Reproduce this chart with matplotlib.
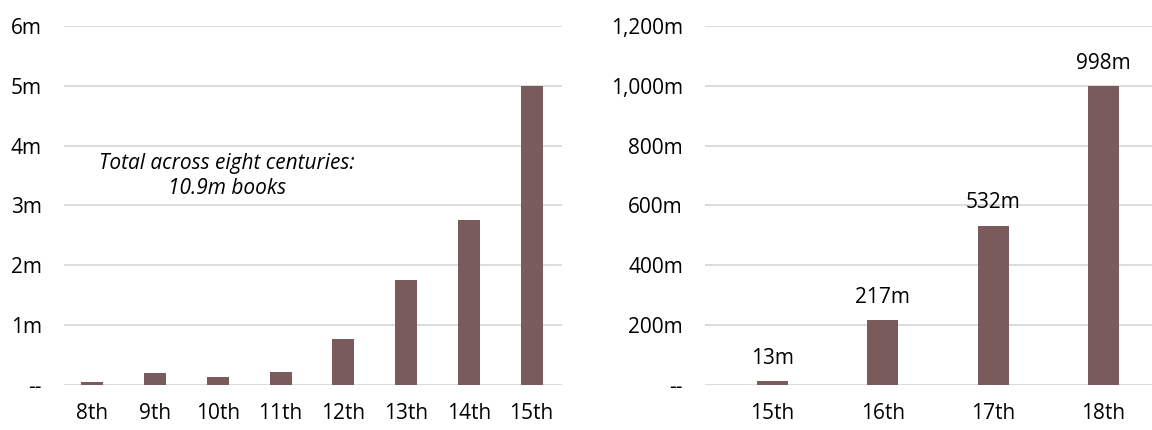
import matplotlib
matplotlib.use('Agg')
import matplotlib.pyplot as plt
from matplotlib.ticker import FuncFormatter

# du lieu doc tu hinh
left_centuries = ['8th', '9th', '10th', '11th', '12th', '13th', '14th', '15th']
left_books_m = [0.044, 0.20, 0.136, 0.212, 0.77, 1.76, 2.75, 5.0]

right_centuries = ['15th', '16th', '17th', '18th']
right_books_m = [12.6, 217, 532, 998]
right_labels = ['13m', '217m', '532m', '998m']

bar_color = '#795b5b'
grid_color = '#d9d9d9'
fs = 15

plt.rcParams['font.family'] = ['Open Sans', 'DejaVu Sans']

fig = plt.figure(figsize=(11.52, 4.30), dpi=100)
ax1 = fig.add_axes([0.0556, 0.1047, 0.432, 0.8348])
ax2 = fig.add_axes([0.612, 0.1047, 0.388, 0.8348])


def style(ax):
    for s in ax.spines.values():
        s.set_visible(False)
    ax.yaxis.grid(True, color=grid_color, linewidth=1.3)
    ax.set_axisbelow(True)
    ax.tick_params(axis='both', length=0, labelsize=fs, colors='black')
    ax.tick_params(axis='y', pad=16)
    ax.tick_params(axis='x', pad=13)


# bieu do trai
x1 = range(len(left_centuries))
ax1.bar(x1, left_books_m, width=0.35, color=bar_color)
ax1.set_xticks(list(x1))
ax1.set_xticklabels(left_centuries)
ax1.set_xlim(-0.45, 7.48)
ax1.set_ylim(0, 6)
ax1.set_yticks(range(0, 7))
ax1.yaxis.set_major_formatter(FuncFormatter(lambda v, p: '--' if v == 0 else f'{v:.0f}m'))
style(ax1)
ax1.text(2.14, 3.5, 'Total across eight centuries:\n10.9m books', ha='center', va='center',
         fontsize=fs, style='italic', linespacing=1.25)

# bieu do phai
x2 = range(len(right_centuries))
bars = ax2.bar(x2, right_books_m, width=0.28, color=bar_color)
ax2.set_xticks(list(x2))
ax2.set_xticklabels(right_centuries)
ax2.set_xlim(-0.61, 3.44)
ax2.set_ylim(0, 1200)
ax2.set_yticks(range(0, 1201, 200))
ax2.yaxis.set_major_formatter(FuncFormatter(lambda v, p: '--' if v == 0 else f'{v:,.0f}m'))
style(ax2)
for b, lab in zip(bars, right_labels):
    ax2.annotate(lab, (b.get_x() + b.get_width() / 2, b.get_height()), xytext=(0, 9),
                 textcoords='offset points', ha='center', va='bottom', fontsize=fs)

fig.savefig('out.png', dpi=100)
